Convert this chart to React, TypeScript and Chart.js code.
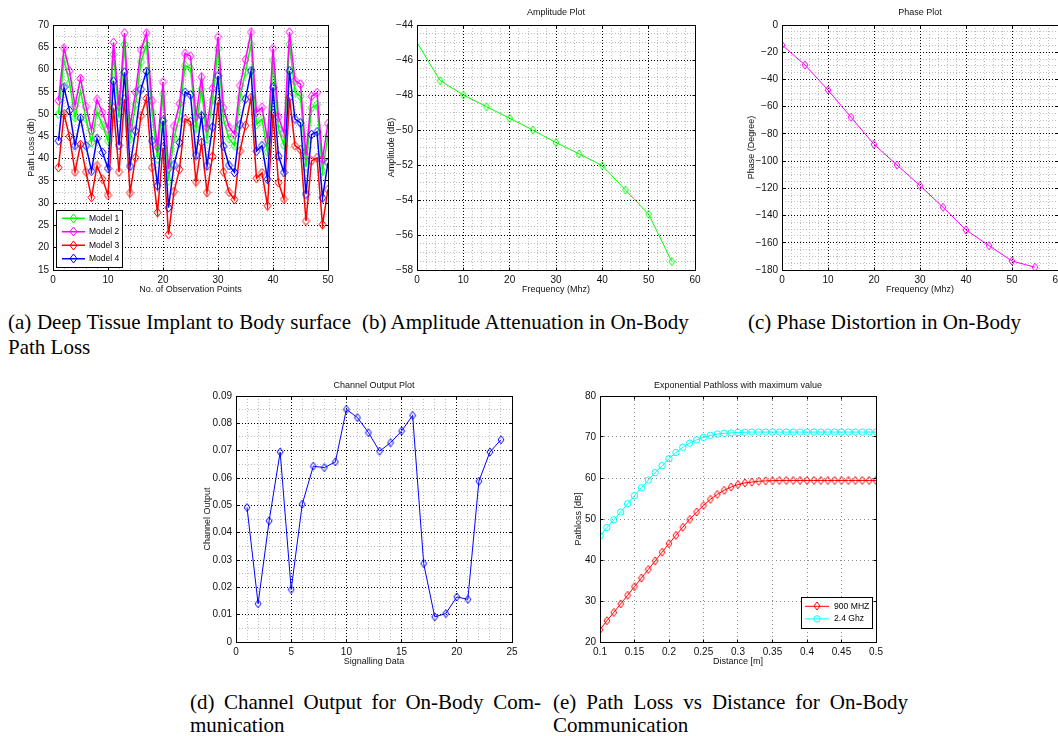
import React, { useEffect, useLayoutEffect, useRef } from "react";
import { Chart, registerables } from "chart.js";

Chart.register(...registerables);

const SANS = "'Liberation Sans', Arial, Helvetica, sans-serif";
const SERIF = "'Liberation Serif', 'Times New Roman', Times, serif";
Chart.defaults.font.family = SANS;
Chart.defaults.color = "#111";

// ================= DATA =================
// (a) Deep tissue implant to body surface path loss
const observationPoints = [
  1, 2, 3, 4, 5, 6, 7, 8, 9, 10, 11, 12, 13, 14, 15, 16, 17, 18, 19, 20, 21, 22, 23, 24, 25,
  26, 27, 28, 29, 30, 31, 32, 33, 34, 35, 36, 37, 38, 39, 40, 41, 42, 43, 44, 45, 46, 47, 48, 49, 50,
];
const model1Loss = [
  50.0, 62.2, 57.0, 49.2, 55.3, 49.0, 43.6, 50.6, 47.5, 44.0, 63.4, 49.2, 65.6, 44.4, 52.2, 61.7, 65.6,
  50.5, 39.9, 54.5, 35.0, 44.6, 49.6, 60.9, 60.3, 46.8, 55.6, 44.4, 53.2, 64.7, 48.8, 44.5, 42.9, 53.7,
  59.5, 65.7, 47.7, 48.9, 41.5, 62.0, 46.6, 43.0, 65.7, 54.9, 54.0, 38.1, 51.4, 52.1, 37.2, 45.2,
];
const model2Loss = [
  53.0, 64.8, 59.7, 51.9, 58.0, 51.7, 46.3, 53.3, 50.3, 46.6, 66.1, 51.8, 68.2, 47.1, 54.9, 64.4, 68.2,
  53.0, 42.6, 57.2, 37.7, 47.3, 52.3, 63.6, 63.0, 49.5, 58.3, 47.0, 55.8, 67.3, 51.4, 47.1, 45.5, 56.4,
  62.2, 68.4, 50.4, 51.5, 44.2, 64.7, 49.3, 45.7, 68.4, 57.5, 56.7, 40.7, 54.0, 54.8, 39.9, 47.9,
];
const model3Loss = [
  38.0, 50.0, 45.0, 37.0, 43.2, 37.0, 31.3, 38.4, 35.4, 31.8, 51.4, 37.0, 53.4, 32.3, 40.2, 49.6, 53.5,
  38.0, 27.9, 42.5, 23.0, 32.6, 37.6, 48.9, 48.3, 34.8, 43.6, 32.4, 40.5, 52.8, 37.0, 32.5, 30.8, 41.7,
  47.4, 53.7, 35.6, 36.8, 29.4, 50.1, 34.6, 30.9, 53.7, 42.9, 42.0, 26.0, 39.5, 40.2, 25.2, 33.1,
];
const model4Loss = [
  44.0, 56.0, 50.8, 42.9, 49.1, 42.9, 37.2, 44.5, 41.4, 37.8, 57.4, 43.0, 59.4, 38.3, 46.2, 55.6, 59.6,
  44.0, 33.9, 48.5, 29.0, 38.6, 43.6, 54.9, 54.3, 40.8, 49.6, 38.4, 47.1, 58.6, 42.8, 38.5, 36.9, 47.6,
  53.4, 59.7, 41.7, 42.9, 35.4, 56.0, 40.6, 36.9, 59.7, 48.9, 48.0, 32.0, 45.4, 46.0, 31.2, 39.1,
];
const modelNames = ["Model 1", "Model 2", "Model 3", "Model 4"];

// (b) amplitude, (c) phase
const frequencyMHz = [0, 5, 10, 15, 20, 25, 30, 35, 40, 45, 50, 55];
const amplitudeDb = [-45.0, -47.18, -48.0, -48.67, -49.33, -50.0, -50.72, -51.37, -52.04, -53.43, -54.82, -57.52];
const phaseDeg = [-14.7, -29.4, -47.8, -67.8, -87.7, -102.9, -118.0, -133.9, -150.6, -162.1, -173.4, -178.0];

// (d) channel output
const signallingData = [1, 2, 3, 4, 5, 6, 7, 8, 9, 10, 11, 12, 13, 14, 15, 16, 17, 18, 19, 20, 21, 22, 23, 24];
const channelOutput = [
  0.0492, 0.0140, 0.0443, 0.0695, 0.0192, 0.0504, 0.0643, 0.0638, 0.0659, 0.0851, 0.0821, 0.0766,
  0.0698, 0.0729, 0.0772, 0.0829, 0.0287, 0.0092, 0.0104, 0.0165, 0.0156, 0.0588, 0.0695, 0.0740,
];

// (e) path loss vs distance
const distanceM = [
  0.10, 0.11, 0.12, 0.13, 0.14, 0.15, 0.16, 0.17, 0.18, 0.19, 0.20, 0.21, 0.22, 0.23, 0.24, 0.25, 0.26,
  0.27, 0.28, 0.29, 0.30, 0.31, 0.32, 0.33, 0.34, 0.35, 0.36, 0.37, 0.38, 0.39, 0.40, 0.41, 0.42, 0.43,
  0.44, 0.45, 0.46, 0.47, 0.48, 0.49, 0.50,
];
const pathLoss900 = [
  23.0, 25.2, 27.2, 29.3, 31.4, 33.5, 35.6, 37.7, 39.8, 41.9, 44.0, 46.0, 48.0, 49.9, 51.7, 53.3, 54.8,
  56.0, 57.0, 57.8, 58.4, 58.8, 59.0, 59.2, 59.3, 59.35, 59.4, 59.4, 59.4, 59.4, 59.4, 59.4, 59.4, 59.4,
  59.4, 59.4, 59.4, 59.4, 59.4, 59.4, 59.4,
];
const pathLoss24 = [
  45.9, 47.9, 49.8, 51.7, 53.7, 55.7, 57.6, 59.5, 61.3, 63.0, 64.7, 66.2, 67.5, 68.5, 69.3, 69.9, 70.4,
  70.7, 70.9, 71.0, 71.1, 71.15, 71.2, 71.2, 71.2, 71.2, 71.2, 71.2, 71.2, 71.2, 71.2, 71.2, 71.2, 71.2,
  71.2, 71.2, 71.2, 71.2, 71.2, 71.2, 71.2,
];

// captions
const captionLines = [
  { text: "(a) Deep Tissue Implant to Body surface", x: 8, y: 323, w: 343 },
  { text: "Path Loss", x: 8, y: 348 },
  { text: "(b) Amplitude Attenuation in On-Body", x: 362, y: 323 },
  { text: "(c) Phase Distortion in On-Body", x: 748, y: 323 },
  { text: "(d) Channel Output for On-Body Com-", x: 190, y: 703, w: 351 },
  { text: "munication", x: 190, y: 726 },
  { text: "(e) Path Loss vs Distance for On-Body", x: 553, y: 703, w: 355 },
  { text: "Communication", x: 553, y: 726 },
];

// ================= HELPERS =================
const TICK_SIZE = 10;
const LABEL_SIZE = 9;
const LH = LABEL_SIZE * 1.2;

function makeDiamond(color: string, w = 6, h = 8): HTMLCanvasElement {
  const c = document.createElement("canvas");
  c.width = w + 2;
  c.height = h + 2;
  const g = c.getContext("2d")!;
  g.strokeStyle = color;
  g.lineWidth = 1;
  const cx = c.width / 2;
  const cy = c.height / 2;
  g.beginPath();
  g.moveTo(cx, cy - h / 2);
  g.lineTo(cx + w / 2, cy);
  g.lineTo(cx, cy + h / 2);
  g.lineTo(cx - w / 2, cy);
  g.closePath();
  g.stroke();
  return c;
}

const pts = (xs: number[], ys: number[]) => xs.map((x, i) => ({ x, y: ys[i] }));

const framePlugin = {
  id: "frame",
  afterDatasetsDraw(chart: any) {
    const { ctx, chartArea: a, scales } = chart;
    const al = (p: number) => Math.round(p - 0.5) + 0.5;
    ctx.save();
    ctx.strokeStyle = "#000";
    ctx.lineWidth = 1;
    ctx.setLineDash([]);
    const L = al(a.left), R = al(a.right), T = al(a.top), B = al(a.bottom);
    ctx.strokeRect(L, T, R - L, B - T);
    const tl = 3;
    ctx.beginPath();
    for (const t of scales.x.ticks) {
      const px = al(scales.x.getPixelForValue(t.value));
      ctx.moveTo(px, B); ctx.lineTo(px, B - tl);
      ctx.moveTo(px, T); ctx.lineTo(px, T + tl);
    }
    for (const t of scales.y.ticks) {
      const py = al(scales.y.getPixelForValue(t.value));
      ctx.moveTo(L, py); ctx.lineTo(L + tl, py);
      ctx.moveTo(R, py); ctx.lineTo(R - tl, py);
    }
    ctx.stroke();
    ctx.restore();
  },
};

const legendPlugin = {
  id: "mlegend",
  afterDatasetsDraw(chart: any, _a: any, opts: any) {
    if (!opts || !opts.show) return;
    const { ctx, chartArea: a } = chart;
    const ds = chart.data.datasets;
    const h = ds.length * opts.rowH + opts.padY * 2;
    const x = Math.round(opts.corner === "sw" ? a.left + opts.offX : a.right - opts.offX - opts.width);
    const y = Math.round(a.bottom - opts.offY - h);
    ctx.save();
    ctx.fillStyle = "#fff";
    ctx.fillRect(x, y, opts.width, h);
    ctx.strokeStyle = "#000";
    ctx.lineWidth = 1;
    ctx.setLineDash([]);
    ctx.strokeRect(x + 0.5, y + 0.5, Math.round(opts.width), Math.round(h));
    ds.forEach((d: any, i: number) => {
      const cy = y + opts.padY + opts.rowH * (i + 0.5);
      const x1 = x + opts.lineStart;
      const x2 = x1 + opts.lineLen;
      ctx.strokeStyle = d.borderColor;
      ctx.lineWidth = d.borderWidth;
      ctx.beginPath();
      ctx.moveTo(x1, cy);
      ctx.lineTo(x2, cy);
      ctx.stroke();
      const mx = (x1 + x2) / 2;
      const ps = d.pointStyle;
      if (ps && typeof ps === "object") {
        ctx.drawImage(ps, Math.round(mx - ps.width / 2), Math.round(cy - ps.height / 2));
      } else {
        ctx.lineWidth = 1;
        ctx.beginPath();
        ctx.arc(mx, cy, d.pointRadius, 0, Math.PI * 2);
        ctx.stroke();
      }
      ctx.fillStyle = "#000";
      ctx.font = `${opts.fontSize}px ${SANS}`;
      ctx.textBaseline = "middle";
      ctx.textAlign = "left";
      ctx.fillText(d.label, x + opts.textX, cy);
    });
    ctx.restore();
  },
};

interface AxisSpec {
  min: number;
  max: number;
  step: number;
  minor?: number;
  title: string;
  fmt: (v: number) => string;
}
interface Spec {
  area: { l: number; t: number; r: number; b: number };
  yTitleX: number;
  xTitleY: number;
  titleY?: number;
  title?: string;
  x: AxisSpec;
  y: AxisSpec;
  gridColor: string;
  gridDash: number[];
  minorColor: string;
  legend?: any;
  datasets: () => any[];
}

const minus = (s: string) => s.replace("-", "\u2212");
const fmtInt = (v: number) => minus(String(Math.round(v)));
const fmtDec = (d: number) => (v: number) => minus(String(+v.toFixed(d)));

function layoutOf(s: Spec) {
  const cx = Math.floor(s.yTitleX - LH / 2);
  const cy = s.titleY !== undefined ? Math.floor(s.titleY - LH / 2 - 3) : s.area.t - 10;
  const cw = Math.ceil(s.area.r + 16 - cx);
  const ch = Math.ceil(s.xTitleY + LH / 2 + 2) - cy;
  return { cx, cy, cw, ch };
}

function isMult(v: number, step: number) {
  const r = v / step;
  return Math.abs(r - Math.round(r)) < 1e-6;
}

function buildConfig(s: Spec, L: { cx: number; cy: number; cw: number; ch: number }) {
  const yW = s.area.l - L.cx;
  const xH = L.cy + L.ch - s.area.b;
  const hasTitle = s.titleY !== undefined;
  const padTop = hasTitle ? 0 : s.area.t - L.cy;
  const titlePadTop = hasTitle ? (s.titleY as number) - LH / 2 - L.cy : 0;
  const titlePadBottom = hasTitle ? s.area.t - L.cy - titlePadTop - LH : 0;
  const yTitlePad = s.yTitleX - LH / 2 - L.cx;
  const xTitlePad = L.cy + L.ch - s.xTitleY - LH / 2;
  const padRight = L.cx + L.cw - s.area.r;
  const tickFont = { family: SANS, size: TICK_SIZE };
  const labelFont = { family: SANS, size: LABEL_SIZE };

  const major = (ax: AxisSpec, isX: boolean) => ({
    type: "linear",
    axis: isX ? "x" : "y",
    position: isX ? "bottom" : "left",
    min: ax.min,
    max: ax.max,
    ticks: {
      stepSize: ax.step,
      padding: 4,
      color: "#111",
      font: tickFont,
      maxRotation: 0,
      autoSkip: false,
      callback: (v: any) => ax.fmt(Number(v)),
    },
    grid: { color: s.gridColor, lineWidth: 1, drawTicks: false },
    border: { display: false, dash: s.gridDash },
    title: {
      display: true,
      text: ax.title,
      color: "#111",
      font: labelFont,
      padding: isX ? { top: 0, bottom: xTitlePad } : { top: yTitlePad, bottom: 0 },
    },
    afterFit: (sc: any) => {
      if (isX) sc.height = xH;
      else sc.width = yW;
    },
  });

  const minorScale = (ax: AxisSpec, isX: boolean) => ({
    type: "linear",
    axis: isX ? "x" : "y",
    position: isX ? "bottom" : "left",
    min: ax.min,
    max: ax.max,
    ticks: { display: false, stepSize: ax.minor },
    grid: {
      color: (c: any) => (c && c.tick && !isMult(c.tick.value, ax.step) ? s.minorColor : "rgba(0,0,0,0)"),
      lineWidth: 1,
      drawTicks: false,
      z: -2,
    },
    border: { display: false, dash: s.gridDash, color: "rgba(0,0,0,0)" },
    title: { display: false },
    afterFit: (sc: any) => {
      if (isX) sc.height = 0;
      else sc.width = 0;
    },
  });

  const scales: any = {};
  if (s.x.minor) scales.xMinor = minorScale(s.x, true);
  if (s.y.minor) scales.yMinor = minorScale(s.y, false);
  scales.x = major(s.x, true);
  scales.y = major(s.y, false);

  return {
    type: "line",
    data: { datasets: s.datasets() },
    options: {
      responsive: false,
      animation: false,
      events: [],
      layout: { autoPadding: false, padding: { top: padTop, left: 0, bottom: 0, right: padRight } },
      scales,
      plugins: {
        legend: { display: false },
        tooltip: { enabled: false },
        title: hasTitle
          ? {
              display: true,
              text: s.title,
              color: "#111",
              font: { family: SANS, size: LABEL_SIZE, weight: "normal" },
              fullSize: false,
              padding: { top: titlePadTop, bottom: titlePadBottom },
            }
          : { display: false },
        mlegend: s.legend || { show: false },
      },
    },
    plugins: [framePlugin, legendPlugin],
  };
}

const lineDs = (label: string, xs: number[], ys: number[], color: string, extra: any = {}) => ({
  label,
  data: pts(xs, ys),
  borderColor: color,
  borderWidth: 1,
  pointStyle: makeDiamond(color),
  pointRadius: 4,
  pointBorderColor: color,
  pointBackgroundColor: "rgba(0,0,0,0)",
  pointBorderWidth: 1,
  xAxisID: "x",
  yAxisID: "y",
  ...extra,
});

const MAJOR = "#000000";
const MINOR = "#bdbdbd";
const DASH = [1, 2];

const specs: Spec[] = [
  {
    area: { l: 53, t: 25, r: 328, b: 270 },
    yTitleX: 32,
    xTitleY: 290,
    x: { min: 0, max: 50, step: 10, minor: 2, title: "No. of Observation Points", fmt: fmtInt },
    y: { min: 15, max: 70, step: 5, minor: 2.5, title: "Path Loss (db)", fmt: fmtInt },
    gridColor: MAJOR,
    gridDash: DASH,
    minorColor: MINOR,
    legend: { show: true, corner: "sw", offX: 3, offY: 3, width: 66, rowH: 13.5, padY: 1.5, lineStart: 6, lineLen: 23, textX: 33, fontSize: 8.5 },
    datasets: () => {
      const cols = ["#00ff00", "#ff00ff", "#ff0000", "#0000ff"];
      const ser = [model1Loss, model2Loss, model3Loss, model4Loss];
      return ser.map((ys, i) =>
        lineDs(modelNames[i], observationPoints, ys, cols[i], {
          borderWidth: 1.5,
          order: 3 - i,
          pointStyle: makeDiamond(cols[i], 7, 9),
        })
      );
    },
  },
  {
    area: { l: 417, t: 25, r: 695, b: 270 },
    yTitleX: 391.5,
    xTitleY: 290,
    titleY: 13,
    title: "Amplitude Plot",
    x: { min: 0, max: 60, step: 10, minor: 2, title: "Frequency (Mhz)", fmt: fmtInt },
    y: { min: -58, max: -44, step: 2, minor: 0.5, title: "Amplitude (dB)", fmt: fmtInt },
    gridColor: MAJOR,
    gridDash: DASH,
    minorColor: MINOR,
    datasets: () => [
      lineDs("Amplitude", frequencyMHz, amplitudeDb, "#00ff00", {
        pointRadius: frequencyMHz.map((_, i) => (i === 0 ? 0 : 4)),
      }),
    ],
  },
  {
    area: { l: 782, t: 25, r: 1058, b: 270 },
    yTitleX: 752,
    xTitleY: 290,
    titleY: 13,
    title: "Phase Plot",
    x: { min: 0, max: 60, step: 10, minor: 2, title: "Frequency (Mhz)", fmt: fmtInt },
    y: { min: -180, max: 0, step: 20, minor: 5, title: "Phase (Degree)", fmt: fmtInt },
    gridColor: MAJOR,
    gridDash: DASH,
    minorColor: MINOR,
    datasets: () => [lineDs("Phase", frequencyMHz, phaseDeg, "#ff00ff")],
  },
  {
    area: { l: 236, t: 396, r: 512, b: 642 },
    yTitleX: 208,
    xTitleY: 661.5,
    titleY: 386,
    title: "Channel Output Plot",
    x: { min: 0, max: 25, step: 5, minor: 1, title: "Signalling Data", fmt: fmtInt },
    y: { min: 0, max: 0.09, step: 0.01, minor: 0.005, title: "Channel Output", fmt: fmtDec(3) },
    gridColor: MAJOR,
    gridDash: DASH,
    minorColor: MINOR,
    datasets: () => [lineDs("Channel Output", signallingData, channelOutput, "#0000ff")],
  },
  {
    area: { l: 600, t: 396, r: 876, b: 642 },
    yTitleX: 579,
    xTitleY: 661.5,
    titleY: 386,
    title: "Exponential Pathloss with maximum value",
    x: { min: 0.1, max: 0.5, step: 0.05, title: "Distance [m]", fmt: fmtDec(2) },
    y: { min: 20, max: 80, step: 10, title: "Pathloss [dB]", fmt: fmtInt },
    gridColor: "#8c8c8c",
    gridDash: [1, 3],
    minorColor: MINOR,
    legend: { show: true, corner: "se", offX: 4, offY: 14, width: 71, rowH: 12.6, padY: 3, lineStart: 4, lineLen: 24, textX: 33, fontSize: 8.6 },
    datasets: () => [
      lineDs("900 MHZ", distanceM, pathLoss900, "#ff0000"),
      lineDs("2.4 Ghz", distanceM, pathLoss24, "#00ffff", { pointStyle: "circle", pointRadius: 3.2 }),
    ],
  },
];

function ChartCanvas({ spec }: { spec: Spec }) {
  const ref = useRef<HTMLCanvasElement>(null);
  const L = layoutOf(spec);
  useEffect(() => {
    const chart = new Chart(ref.current as HTMLCanvasElement, buildConfig(spec, L) as any);
    return () => chart.destroy();
  }, []);
  return (
    <canvas
      ref={ref}
      width={L.cw}
      height={L.ch}
      style={{ position: "absolute", left: L.cx, top: L.cy, width: L.cw, height: L.ch }}
    />
  );
}

function CaptionLine({ text, x, y, w }: { text: string; x: number; y: number; w?: number }) {
  const ref = useRef<HTMLSpanElement>(null);
  useLayoutEffect(() => {
    const el = ref.current;
    if (!el || !w) return;
    el.style.wordSpacing = "0px";
    const nat = el.getBoundingClientRect().width;
    const spaces = (text.match(/ /g) || []).length;
    if (spaces > 0) el.style.wordSpacing = `${(w - nat) / spaces}px`;
  }, [text, w]);
  return (
    <span
      ref={ref}
      style={{
        position: "absolute",
        left: x,
        top: y - 13,
        fontFamily: SERIF,
        fontSize: 21,
        lineHeight: "24px",
        color: "#000",
        whiteSpace: "nowrap",
      }}
    >
      {text}
    </span>
  );
}

export default function App() {
  return (
    <div
      style={{
        position: "absolute",
        left: 0,
        top: 0,
        width: 1058,
        height: 736,
        overflow: "hidden",
        background: "#fff",
      }}
    >
      {specs.map((s, i) => (
        <ChartCanvas key={i} spec={s} />
      ))}
      {captionLines.map((c, i) => (
        <CaptionLine key={i} text={c.text} x={c.x} y={c.y} w={(c as any).w} />
      ))}
    </div>
  );
}
